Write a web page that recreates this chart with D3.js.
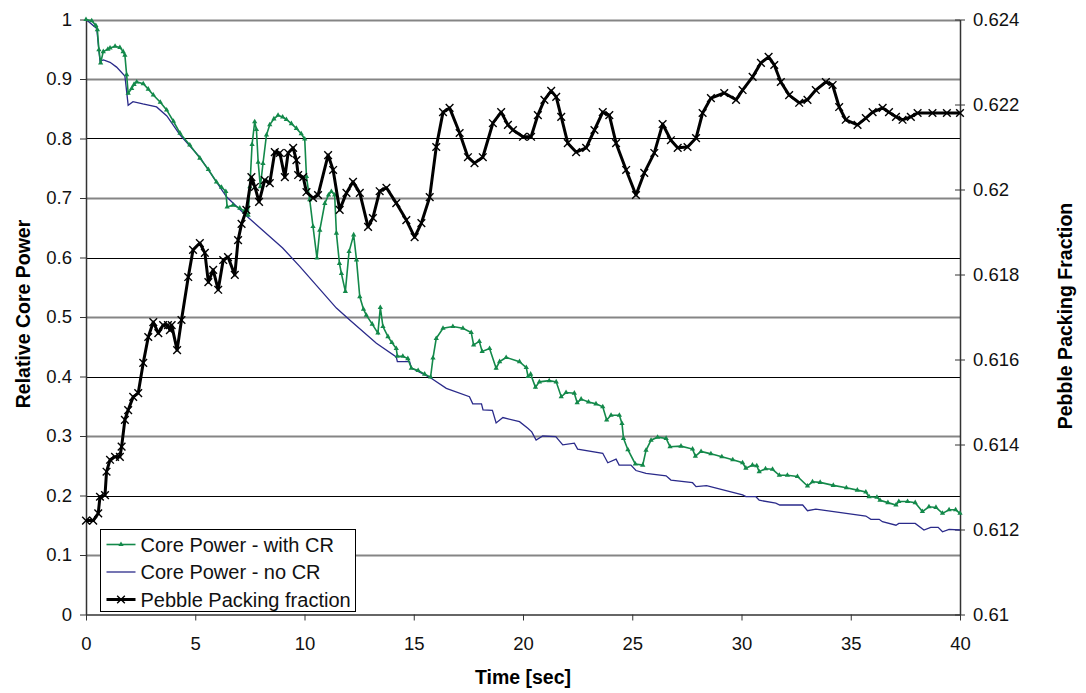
<!DOCTYPE html>
<html lang="en">
<head>
<meta charset="UTF-8">
<title>Core Power and Pebble Packing Fraction</title>
<script src="https://d3js.org/d3.v7.min.js"></script>
<style>
    body { margin: 0; background: #fff; }
    svg { display: block; font-family: 'Liberation Sans', Arial, sans-serif; }
    .tick text { fill: #111; }
</style>
</head>
<body>
<div id="chart"></div>
<script>
// --- Data ---
const timeTicks = [0, 5, 10, 15, 20, 25, 30, 35, 40];
const powerTicks = [0, 0.1, 0.2, 0.3, 0.4, 0.5, 0.6, 0.7, 0.8, 0.9, 1];
const packingTicks = [0.61, 0.612, 0.614, 0.616, 0.618, 0.62, 0.622, 0.624];

// [time (s), relative power]
const powerWithCR = [
    [0, 1.0], [0.26, 0.998], [0.45, 0.99], [0.52, 0.983], [0.59, 0.949], [0.67, 0.927],
    [0.79, 0.946], [1.0, 0.95], [1.1, 0.952], [1.33, 0.955], [1.55, 0.953], [1.7, 0.946],
    [1.78, 0.94], [1.86, 0.907], [1.93, 0.876], [2.09, 0.884], [2.2, 0.891], [2.32, 0.895],
    [2.62, 0.892], [2.85, 0.883], [3.08, 0.873], [3.4, 0.861], [3.69, 0.848], [4.0, 0.829],
    [4.3, 0.809], [4.75, 0.789], [5.21, 0.767], [5.6, 0.748], [5.97, 0.727], [6.2, 0.718],
    [6.4, 0.711], [6.46, 0.685], [6.73, 0.688], [7.04, 0.683], [7.25, 0.678], [7.42, 0.671],
    [7.5, 0.719], [7.6, 0.79], [7.72, 0.828], [7.8, 0.815], [7.88, 0.76], [7.98, 0.719],
    [8.1, 0.758], [8.26, 0.806], [8.41, 0.823], [8.6, 0.833], [8.79, 0.839], [9.0, 0.836],
    [9.17, 0.832], [9.4, 0.825], [9.63, 0.817], [9.85, 0.808], [10.01, 0.799], [10.09, 0.736],
    [10.24, 0.697], [10.39, 0.652], [10.57, 0.599], [10.7, 0.646], [10.93, 0.691], [11.1, 0.705],
    [11.23, 0.711], [11.38, 0.705], [11.46, 0.641], [11.6, 0.59], [11.69, 0.573], [11.87, 0.543],
    [12.04, 0.61], [12.25, 0.638], [12.38, 0.596], [12.53, 0.534], [12.7, 0.513], [12.83, 0.503],
    [13.1, 0.488], [13.36, 0.473], [13.47, 0.516], [13.59, 0.484], [13.82, 0.467], [14.0, 0.457],
    [14.2, 0.447], [14.25, 0.434], [14.5, 0.434], [14.73, 0.43], [14.89, 0.414], [15.2, 0.41],
    [15.5, 0.404], [15.77, 0.399], [15.88, 0.431], [16.03, 0.464], [16.34, 0.481], [16.79, 0.484],
    [17.25, 0.481], [17.63, 0.474], [17.74, 0.453], [18.0, 0.459], [18.13, 0.442], [18.47, 0.447],
    [18.77, 0.414], [18.93, 0.425], [19.23, 0.432], [19.84, 0.425], [20.15, 0.415], [20.23, 0.4],
    [20.35, 0.404], [20.57, 0.382], [20.75, 0.391], [21.2, 0.393], [21.52, 0.391], [21.75, 0.366],
    [21.97, 0.373], [22.35, 0.372], [22.48, 0.356], [22.66, 0.362], [23.0, 0.357], [23.34, 0.354],
    [23.65, 0.349], [23.83, 0.327], [24.03, 0.335], [24.41, 0.335], [24.53, 0.321], [24.6, 0.296],
    [24.8, 0.277], [25.14, 0.253], [25.48, 0.251], [25.63, 0.276], [25.86, 0.293], [26.16, 0.298],
    [26.55, 0.296], [26.73, 0.282], [27.23, 0.283], [27.76, 0.278], [27.89, 0.266], [28.15, 0.274],
    [28.6, 0.27], [29.1, 0.265], [29.6, 0.26], [30.05, 0.255], [30.2, 0.246], [30.5, 0.251],
    [30.7, 0.25], [30.81, 0.24], [31.1, 0.245], [31.42, 0.244], [31.73, 0.234], [32.1, 0.234],
    [32.56, 0.232], [33.02, 0.216], [33.25, 0.223], [33.6, 0.222], [34.2, 0.217], [34.8, 0.213],
    [35.3, 0.209], [35.69, 0.206], [35.84, 0.198], [36.2, 0.197], [36.34, 0.192], [36.7, 0.188],
    [37.07, 0.184], [37.2, 0.19], [37.6, 0.19], [37.95, 0.188], [38.28, 0.173], [38.58, 0.181],
    [38.9, 0.18], [39.2, 0.17], [39.5, 0.176], [39.8, 0.176], [40.0, 0.17]
];

const powerNoCR = [
    [0, 1.0], [0.49, 0.985], [0.64, 0.93], [0.8, 0.932], [1.1, 0.928], [1.4, 0.92], [1.78, 0.905],
    [1.93, 0.856], [2.15, 0.862], [2.6, 0.858], [3.23, 0.853], [3.7, 0.838], [4.3, 0.806],
    [5.2, 0.769], [6.43, 0.702], [7.4, 0.668], [9.0, 0.616], [9.78, 0.585], [11.46, 0.515],
    [12.07, 0.495], [13.29, 0.456], [14.2, 0.433], [14.25, 0.425], [14.81, 0.425], [14.9, 0.414],
    [15.8, 0.397], [16.49, 0.38], [17.55, 0.366], [17.7, 0.354], [18.1, 0.354], [18.17, 0.344],
    [18.6, 0.343], [18.77, 0.322], [19.08, 0.331], [19.84, 0.324], [20.22, 0.313], [20.4, 0.307],
    [20.6, 0.293], [20.9, 0.3], [21.5, 0.299], [21.82, 0.285], [22.35, 0.288], [22.5, 0.278],
    [23.65, 0.271], [23.88, 0.255], [24.26, 0.261], [24.4, 0.251], [24.94, 0.251], [25.17, 0.242],
    [25.63, 0.237], [26.55, 0.233], [26.77, 0.226], [27.76, 0.2215], [27.92, 0.215], [28.4, 0.2165],
    [30.05, 0.201], [30.2, 0.198], [30.66, 0.198], [30.81, 0.192], [31.57, 0.187], [31.75, 0.184],
    [32.8, 0.184], [33.02, 0.1745], [33.4, 0.177], [35.69, 0.1655], [35.92, 0.16], [36.3, 0.16],
    [36.45, 0.156], [37.07, 0.15], [37.2, 0.153], [37.95, 0.153], [38.35, 0.142], [38.66, 0.1465],
    [39.0, 0.1465], [39.2, 0.139], [39.5, 0.143], [40, 0.142]
];

// [time (s), pebble packing fraction] on the right axis
const packingFraction = [
    [0, 0.61221], [0.33, 0.61221], [0.56, 0.61238], [0.64, 0.61277], [0.87, 0.61281], [0.94, 0.61336],
    [1.1, 0.61364], [1.33, 0.61371], [1.55, 0.61371], [1.63, 0.61395], [1.78, 0.61458], [1.93, 0.61481],
    [2.16, 0.61512], [2.39, 0.61521], [2.62, 0.61592], [2.85, 0.61653], [3.08, 0.61688], [3.31, 0.61662],
    [3.53, 0.61681], [3.75, 0.61681], [3.84, 0.61669], [3.92, 0.61681], [4.17, 0.61622], [4.37, 0.61693],
    [4.68, 0.61794], [4.9, 0.61858], [5.21, 0.61874], [5.44, 0.61851], [5.6, 0.61782], [5.82, 0.61811],
    [6.05, 0.61764], [6.28, 0.61834], [6.5, 0.61841], [6.81, 0.61799], [6.96, 0.61881], [7.12, 0.61919],
    [7.34, 0.61952], [7.57, 0.62029], [7.73, 0.62006], [7.92, 0.61971], [8.18, 0.62022], [8.41, 0.62015],
    [8.64, 0.62088], [8.87, 0.62086], [9.1, 0.62029], [9.25, 0.62086], [9.48, 0.62098], [9.63, 0.62069],
    [9.71, 0.62034], [9.94, 0.62029], [10.09, 0.61994], [10.39, 0.6198], [10.62, 0.61987], [11.08, 0.62081],
    [11.31, 0.62046], [11.61, 0.61952], [11.92, 0.61992], [12.22, 0.62018], [12.53, 0.61992], [12.91, 0.61912],
    [13.13, 0.61933], [13.44, 0.61996], [13.75, 0.62004], [14.2, 0.61968], [14.66, 0.61928], [15.04, 0.61888],
    [15.35, 0.61921], [15.73, 0.61982], [16.03, 0.621], [16.34, 0.62182], [16.64, 0.62192], [17.1, 0.62133],
    [17.48, 0.62076], [17.78, 0.62062], [18.16, 0.62076], [18.62, 0.62156], [19.0, 0.62182], [19.31, 0.62152],
    [19.54, 0.6214], [20.0, 0.62124], [20.37, 0.62124], [20.68, 0.62175], [20.98, 0.62211], [21.29, 0.62232],
    [21.52, 0.62218], [21.75, 0.62171], [22.05, 0.62109], [22.43, 0.62088], [22.89, 0.62098], [23.27, 0.6214],
    [23.65, 0.62182], [23.95, 0.62175], [24.26, 0.62109], [24.72, 0.62046], [25.17, 0.61987], [25.55, 0.62039],
    [26.01, 0.62086], [26.39, 0.62154], [26.77, 0.62116], [27.08, 0.62098], [27.53, 0.621], [27.92, 0.62121],
    [28.22, 0.6218], [28.6, 0.62215], [29.21, 0.62227], [29.75, 0.62211], [30.05, 0.62234], [30.51, 0.62265],
    [30.89, 0.62298], [31.24, 0.62312], [31.5, 0.62293], [31.8, 0.62253], [32.18, 0.62222], [32.64, 0.62204],
    [33.02, 0.62211], [33.4, 0.62234], [33.86, 0.62253], [34.17, 0.62246], [34.47, 0.62194], [34.77, 0.62164],
    [35.31, 0.62152], [35.69, 0.62168], [36.0, 0.62182], [36.46, 0.62192], [36.75, 0.62182], [37.07, 0.62171],
    [37.37, 0.62164], [37.75, 0.62171], [38.06, 0.6218], [38.74, 0.6218], [39.4, 0.6218], [40, 0.6218]
];

// --- Layout ---
const width = 1086, height = 693;
const plot = { left: 86, right: 960, top: 19.5, bottom: 614.5 };

const svg = d3.select('#chart').append('svg')
    .attr('width', width)
    .attr('height', height);

const x = d3.scaleLinear().domain([0, 40]).range([plot.left, plot.right]);
const yPower = d3.scaleLinear().domain([0, 1]).range([plot.bottom, plot.top]);
const yPacking = d3.scaleLinear().domain([0.61, 0.624]).range([plot.bottom, plot.top]);

// gridlines (alternate rendering like the exported picture)
const isGrey = d => Math.round(d * 10) % 2 === 1 || d === 1;
svg.append('g')
    .selectAll('line')
    .data(powerTicks.filter(d => d > 0))
    .enter().append('line')
    .attr('x1', plot.left).attr('x2', plot.right)
    .attr('y1', d => Math.round(yPower(d)) + 0.5)
    .attr('y2', d => Math.round(yPower(d)) + 0.5)
    .attr('stroke', d => isGrey(d) ? '#858585' : '#000')
    .attr('stroke-width', d => isGrey(d) ? 2 : 1);

// --- Axes ---
const axisFont = '18.5px';

const xAxis = svg.append('g')
    .attr('transform', `translate(0,${plot.bottom})`)
    .call(d3.axisBottom(x).tickValues(timeTicks).tickSize(6).tickPadding(16).tickSizeOuter(0));
const leftAxis = svg.append('g')
    .attr('transform', `translate(${plot.left},0)`)
    .call(d3.axisLeft(yPower).tickValues(powerTicks).tickSize(6).tickPadding(8).tickSizeOuter(0)
        .tickFormat(d => String(+d.toFixed(1))));
const rightAxis = svg.append('g')
    .attr('transform', `translate(${plot.right},0)`)
    .call(d3.axisRight(yPacking).tickValues(packingTicks).tickSize(5).tickPadding(8).tickSizeOuter(0)
        .tickFormat(d => String(+d.toFixed(3))));
rightAxis.selectAll('.tick line').attr('x1', -5);

[xAxis, leftAxis, rightAxis].forEach(a => {
    a.selectAll('text').style('font-size', axisFont).attr('fill', '#111');
    a.select('.domain').attr('stroke', '#333').attr('stroke-width', 1.5);
    a.selectAll('.tick line').attr('stroke', '#333');
});

// axis titles
svg.append('text')
    .attr('x', (plot.left + plot.right) / 2).attr('y', 684)
    .attr('text-anchor', 'middle')
    .style('font-size', '19.5px').style('font-weight', 'bold')
    .text('Time [sec]');
svg.append('text')
    .attr('transform', `translate(30,${(plot.top + plot.bottom) / 2 - 3}) rotate(-90)`)
    .attr('text-anchor', 'middle')
    .style('font-size', '19.5px').style('font-weight', 'bold')
    .text('Relative Core Power');
svg.append('text')
    .attr('transform', `translate(1072,${(plot.top + plot.bottom) / 2 - 1}) rotate(-90)`)
    .attr('text-anchor', 'middle')
    .style('font-size', '19.5px').style('font-weight', 'bold')
    .text('Pebble Packing Fraction');

// --- Series ---
const green = '#13894a', navy = '#2a2a8a';

const linePower = d3.line().x(d => x(d[0])).y(d => yPower(d[1]));
const linePacking = d3.line().x(d => x(d[0])).y(d => yPacking(d[1]));

svg.append('path')
    .datum(powerNoCR)
    .attr('d', linePower)
    .attr('fill', 'none').attr('stroke', navy).attr('stroke-width', 1.3);

svg.append('path')
    .datum(powerWithCR)
    .attr('d', linePower)
    .attr('fill', 'none').attr('stroke', green).attr('stroke-width', 1.6);

const triangle = d3.symbol().type(d3.symbolTriangle).size(12);
svg.append('g')
    .selectAll('path')
    .data(powerWithCR)
    .enter().append('path')
    .attr('transform', d => `translate(${x(d[0])},${yPower(d[1])})`)
    .attr('d', triangle)
    .attr('fill', green);

svg.append('path')
    .datum(packingFraction)
    .attr('d', linePacking)
    .attr('fill', 'none').attr('stroke', '#000').attr('stroke-width', 3)
    .attr('stroke-linejoin', 'round');

const cross = d3.symbol().type(d3.symbolTimes).size(40);
svg.append('g')
    .selectAll('path')
    .data(packingFraction)
    .enter().append('path')
    .attr('transform', d => `translate(${x(d[0])},${yPacking(d[1])})`)
    .attr('d', cross)
    .attr('fill', 'none').attr('stroke', '#000').attr('stroke-width', 1.4);

// --- Legend ---
const legendItems = [
    { label: 'Core Power - with CR', color: green, width: 1.6, marker: 'tri' },
    { label: 'Core Power - no CR', color: navy, width: 1.3, marker: null },
    { label: 'Pebble Packing fraction', color: '#000', width: 3, marker: 'x' }
];
const legend = svg.append('g').attr('transform', 'translate(100.5,529.5)');
legend.append('rect')
    .attr('width', 255).attr('height', 82)
    .attr('fill', '#fff').attr('stroke', '#000').attr('stroke-width', 1);

const item = legend.selectAll('g.item')
    .data(legendItems)
    .enter().append('g')
    .attr('class', 'item')
    .attr('transform', (d, i) => `translate(0,${15 + i * 27.5})`);
item.append('line')
    .attr('x1', 6).attr('x2', 35)
    .attr('stroke', d => d.color).attr('stroke-width', d => d.width);
item.filter(d => d.marker === 'tri').append('path')
    .attr('transform', 'translate(20.5,0)')
    .attr('d', triangle).attr('fill', green);
item.filter(d => d.marker === 'x').append('path')
    .attr('transform', 'translate(20.5,0)')
    .attr('d', cross).attr('fill', 'none').attr('stroke', '#000').attr('stroke-width', 1.4);
item.append('text')
    .attr('x', 40).attr('dy', '0.35em')
    .style('font-size', '20px').attr('fill', '#111')
    .text(d => d.label);
</script>
</body>
</html>
